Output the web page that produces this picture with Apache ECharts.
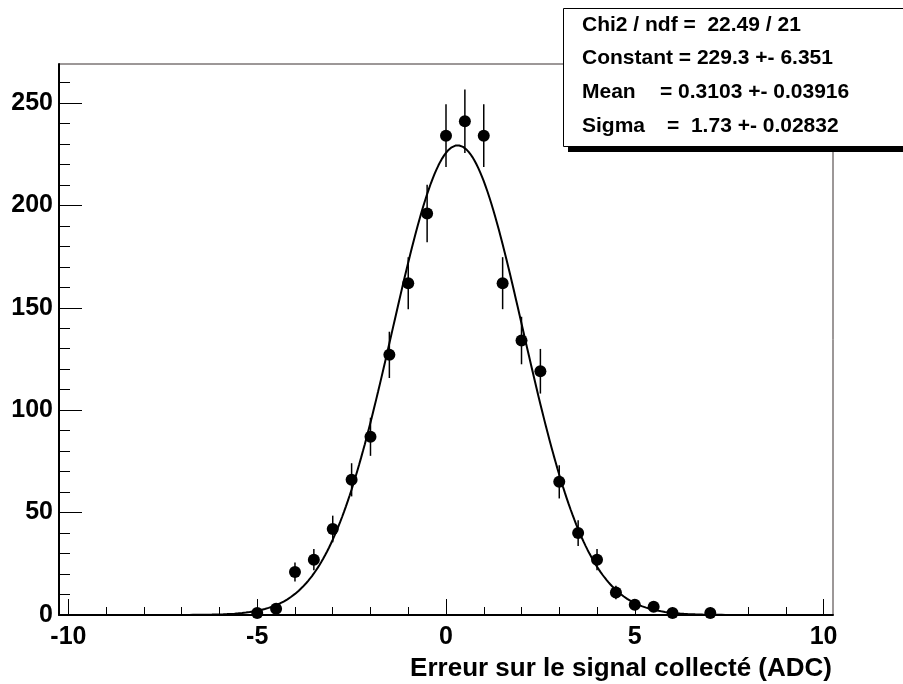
<!DOCTYPE html>
<html>
<head>
<meta charset="utf-8">
<script src="https://cdn.jsdelivr.net/npm/echarts@6/dist/echarts.min.js"></script>
<style>
  html, body { margin: 0; padding: 0; background: #fff; }
  #chart { width: 903px; height: 684px; }
</style>
</head>
<body>
<div id="chart"></div>
<script>
// bin centres and contents
var binCenters = [-5, -4.5, -4, -3.5, -3, -2.5, -2, -1.5, -1, -0.5, 0, 0.5, 1, 1.5, 2, 2.5, 3, 3.5, 4, 4.5, 5, 5.5, 6, 7];
var binCounts  = [1, 3, 21, 27, 42, 66, 87, 127, 162, 196, 234, 241, 234, 162, 134, 119, 65, 40, 27, 11, 5, 4, 1, 1];
var binErrors  = [1, 1.7, 4.6, 5.2, 6.5, 8.1, 9.3, 11.3, 12.7, 14, 15.3, 15.5, 15.3, 12.7, 11.6, 10.9, 8.1, 6.3, 5.2, 3.3, 2.2, 2, 1, 1];

// fit parameters from the stats box
var fitConstant = 229.3;
var fitMean = 0.3103;
var fitSigma = 1.73;

var xMajorTicks = [-10, -5, 0, 5, 10];
var xMinorTicks = [-10, -9, -8, -7, -6, -5, -4, -3, -2, -1, 0, 1, 2, 3, 4, 5, 6, 7, 8, 9, 10];
var yMajorTicks = [0, 50, 100, 150, 200, 250];
var yMinorTicks = [10, 20, 30, 40, 60, 70, 80, 90, 110, 120, 130, 140, 160, 170, 180, 190, 210, 220, 230, 240, 260];

var statsLines = [
    ['Chi2 / ndf =  22.49 / 21'],
    ['Constant = 229.3 +- 6.351'],
    ['Mean', '= 0.3103 +- 0.03916'],
    ['Sigma', '=  1.73 +- 0.02832']
];

var FONT = '"Liberation Sans", Arial, Helvetica, sans-serif';

var chart = echarts.init(document.getElementById('chart'));

var points = binCenters.map(function (x, i) { return [x, binCounts[i]]; });
var bars = binCenters.map(function (x, i) { return [x, binCounts[i] - binErrors[i], binCounts[i] + binErrors[i]]; });

// gaussian from the fitted parameters
var fitLine = [];
for (var k = 0; k <= 400; k++) {
    var fx = -10 + k * 0.05;
    var d = (fx - fitMean) / fitSigma;
    fitLine.push([fx, fitConstant * Math.exp(-0.5 * d * d)]);
}

var statsGraphics = [
    { type: 'rect', z: 100, shape: { x: 568, y: 13, width: 345, height: 139 }, style: { fill: '#000' } },
    { type: 'rect', z: 101, shape: { x: 563.5, y: 8.5, width: 345, height: 138 }, style: { fill: '#fff', stroke: '#000', lineWidth: 1 } }
];
var valueX = [null, null, 660, 667];
statsLines.forEach(function (line, i) {
    var y = 25 + i * 33.6;
    statsGraphics.push({
        type: 'text', z: 102,
        style: { text: line[0], x: 582, y: y, font: 'bold 21px ' + FONT, fill: '#000', textVerticalAlign: 'middle', verticalAlign: 'middle' }
    });
    if (line[1]) {
        statsGraphics.push({
            type: 'text', z: 102,
            style: { text: line[1], x: valueX[i], y: y, font: 'bold 21px ' + FONT, fill: '#000', textVerticalAlign: 'middle', verticalAlign: 'middle' }
        });
    }
});
statsGraphics.push({
    type: 'text', z: 102,
    style: { text: 'Erreur sur le signal collecté (ADC)', x: 832, y: 669, font: 'bold 26px ' + FONT, fill: '#000',
             textAlign: 'right', align: 'right', textVerticalAlign: 'middle', verticalAlign: 'middle' }
});

var option = {
    backgroundColor: '#fff',
    animation: false,
    grid: {
        left: 59, right: 70, top: 64, bottom: 69,
        show: true, borderColor: '#3b3030', borderWidth: 1, backgroundColor: 'transparent'
    },
    xAxis: [{
        type: 'value', min: -10.25, max: 10.25,
        axisLine: { show: true, onZero: false, lineStyle: { color: '#000', width: 2 } },
        axisTick: { inside: true, length: 16, customValues: xMajorTicks, lineStyle: { color: '#000', width: 1 } },
        axisLabel: { customValues: xMajorTicks, margin: 10, color: '#000', fontSize: 25, fontWeight: 'bold', fontFamily: FONT },
        splitLine: { show: false }
    }, {
        type: 'value', min: -10.25, max: 10.25, position: 'bottom',
        axisLine: { show: false, onZero: false },
        axisTick: { inside: true, length: 8, customValues: xMinorTicks, lineStyle: { color: '#000', width: 1 } },
        axisLabel: { show: false },
        splitLine: { show: false }
    }],
    yAxis: [{
        type: 'value', min: 0, max: 269,
        axisLine: { show: true, onZero: false, lineStyle: { color: '#000', width: 2 } },
        axisTick: { inside: true, length: 23, customValues: yMajorTicks, lineStyle: { color: '#000', width: 1 } },
        axisLabel: { customValues: yMajorTicks, margin: 6, color: '#000', fontSize: 25, fontWeight: 'bold', fontFamily: FONT },
        splitLine: { show: false }
    }, {
        type: 'value', min: 0, max: 269, position: 'left',
        axisLine: { show: false, onZero: false },
        axisTick: { inside: true, length: 11, customValues: yMinorTicks, lineStyle: { color: '#000', width: 1 } },
        axisLabel: { show: false },
        splitLine: { show: false }
    }],
    series: [{
        type: 'line',
        data: fitLine,
        showSymbol: false,
        lineStyle: { color: '#000', width: 2 },
        z: 2
    }, {
        type: 'custom',
        data: bars,
        encode: { x: 0, y: [1, 2] },
        renderItem: function (params, api) {
            var p1 = api.coord([api.value(0), api.value(1)]);
            var p2 = api.coord([api.value(0), api.value(2)]);
            return {
                type: 'line',
                shape: { x1: p1[0], y1: p1[1], x2: p2[0], y2: p2[1] },
                style: { stroke: '#000', lineWidth: 1.5 }
            };
        },
        z: 3
    }, {
        type: 'scatter',
        data: points,
        symbol: 'circle',
        symbolSize: 12,
        itemStyle: { color: '#000', opacity: 1 },
        z: 4
    }],
    graphic: statsGraphics
};

chart.setOption(option);
</script>
</body>
</html>
